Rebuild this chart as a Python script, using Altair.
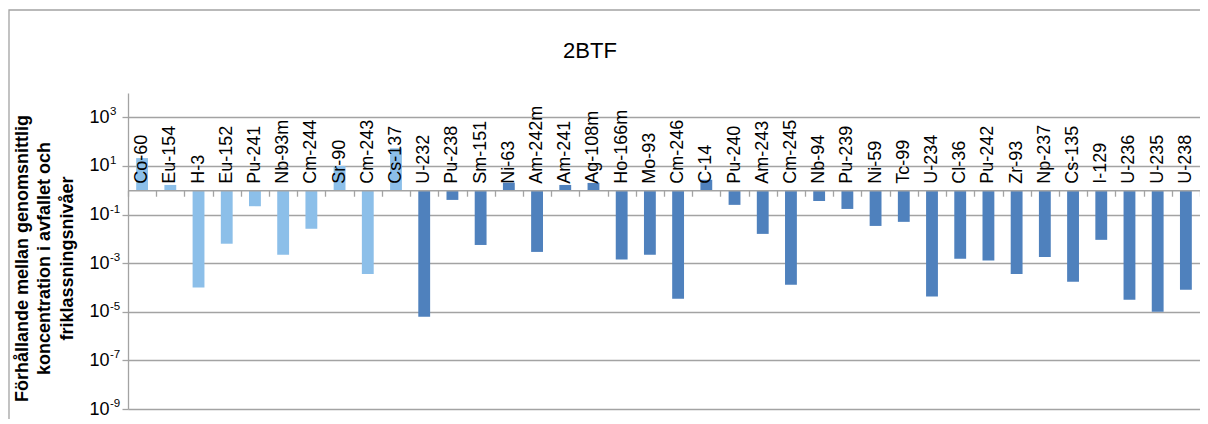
import math
import altair as alt
import pandas as pd

# ---------------- data ----------------
nuclides = ["Co-60", "Eu-154", "H-3", "Eu-152", "Pu-241", "Nb-93m", "Cm-244", "Sr-90", "Cm-243", "Cs-137",
            "U-232", "Pu-238", "Sm-151", "Ni-63", "Am-242m", "Am-241", "Ag-108m", "Ho-166m", "Mo-93", "Cm-246",
            "C-14", "Pu-240", "Am-243", "Cm-245", "Nb-94", "Pu-239", "Ni-59", "Tc-99", "U-234", "Cl-36",
            "Pu-242", "Zr-93", "Np-237", "Cs-135", "I-129", "U-236", "U-235", "U-238"]
ratios = [21, 1.65, 1.0e-4, 6.3e-3, 0.22, 2.2e-3, 0.026, 10, 3.6e-4, 53,
          6.3e-6, 0.40, 5.6e-3, 2.05, 2.9e-3, 1.65, 2.0, 1.4e-3, 2.2e-3, 3.4e-5,
          2.7, 0.25, 0.016, 1.3e-4, 0.36, 0.17, 0.034, 0.05, 4.2e-5, 1.5e-3,
          1.3e-3, 3.6e-4, 1.8e-3, 1.7e-4, 9.1e-3, 3.1e-5, 1.0e-5, 8.0e-5]
groups = ["grupp 1"] * 10 + ["grupp 2"] * 28
group_names = ["grupp 1", "grupp 2"]
group_colors = ["#8cbfe9", "#4f81bd"]

y_tick_values = [1e3, 1e1, 1e-1, 1e-3, 1e-5, 1e-7, 1e-9]
y_tick_base = "10"
y_tick_exponents = ["3", "1", "-1", "-3", "-5", "-7", "-9"]
y_title = ["Förhållande mellan genomsnittlig", "koncentration i avfallet och", "friklassningsnivåer"]
chart_title = "2BTF"

df = pd.DataFrame({"nuklid": nuclides, "kvot": ratios, "grupp": groups})
df_exp = pd.DataFrame({"kvot": y_tick_values, "exponent": y_tick_exponents})

# ---------------- layout ----------------
W, H = 1072, 316
Y_MIN, Y_MAX = 1e-9, 1e4
y_one = H * math.log10(Y_MAX) / (math.log10(Y_MAX) - math.log10(Y_MIN))  # px from top to value 1

GRAY = "#a3a3a3"
FONT = "Liberation Sans"

y_scale = alt.Scale(type="log", domain=[Y_MIN, Y_MAX], nice=False)
x_scale = alt.Scale(paddingInner=0, paddingOuter=0)

bars = alt.Chart(df).mark_bar(width=alt.RelativeBandSize(0.42)).encode(
    x=alt.X("nuklid:N", sort=nuclides, scale=x_scale,
            axis=alt.Axis(orient="bottom", offset=-(H - y_one), labels=False, title=None,
                          ticks=True, tickBand="extent", tickSize=6, tickColor=GRAY, tickWidth=1.3,
                          domainColor=GRAY, domainWidth=1.3, grid=False, zindex=1)),
    y=alt.Y("kvot:Q", scale=y_scale,
            axis=alt.Axis(values=y_tick_values, labelExpr=f"'{y_tick_base}'", title=y_title,
                          titleFont=FONT, titleFontSize=18, titleFontWeight="bold", titleColor="black",
                          titleLineHeight=22.5, titleAngle=270, titleAlign="center", titleBaseline="middle",
                          titleX=-106, titleY=165,
                          labelFont=FONT, labelFontSize=18, labelColor="black", labelPadding=13,
                          labelBaseline="middle",
                          tickSize=6, tickColor=GRAY, tickWidth=1.3,
                          domainColor=GRAY, domainWidth=1.3,
                          grid=True, gridColor=GRAY, gridWidth=1.3)),
    y2=alt.datum(1),
    color=alt.Color("grupp:N", scale=alt.Scale(domain=group_names, range=group_colors), legend=None),
)

exponents = alt.Chart(df_exp).mark_text(
    font=FONT, fontSize=11.5, color="black", align="left", baseline="alphabetic", dy=-2
).encode(
    text="exponent:N",
    x=alt.value(-18),
    y=alt.Y("kvot:Q", scale=y_scale, axis=None),
)

top_labels = alt.Chart(df).mark_point(opacity=0).encode(
    x=alt.X("nuklid:N", sort=nuclides, scale=x_scale,
            axis=alt.Axis(orient="top", offset=-y_one, title=None, ticks=False, tickSize=0, domain=False,
                          labelAngle=270, labelAlign="left", labelBaseline="middle",
                          labelFont=FONT, labelFontSize=18, labelColor="black", labelPadding=7,
                          labelOverlap=False, labelLimit=300, grid=False, zindex=1)),
    y=alt.value(0),
)

frame = alt.Chart(pd.DataFrame({"a": [0]})).mark_rect(filled=False, stroke=GRAY, strokeWidth=1.3).encode(
    x=alt.value(-119), x2=alt.value(W + 30), y=alt.value(-83), y2=alt.value(H + 40),
)

title = alt.Chart(pd.DataFrame({"t": [chart_title]})).mark_text(
    font=FONT, fontSize=22, color="black", align="center", baseline="alphabetic"
).encode(text="t:N", x=alt.value(462), y=alt.value(-34.7))

chart = alt.layer(frame, bars, exponents, top_labels, title).resolve_axis(
    x="independent", y="independent"
).properties(
    width=W, height=H,
    autosize=alt.AutoSizeParams(type="none"),
    padding={"left": 120, "top": 85, "right": 0, "bottom": 10},
).configure_view(strokeWidth=0)

chart.save("out.html", embed_options={"renderer": "svg", "actions": False})
